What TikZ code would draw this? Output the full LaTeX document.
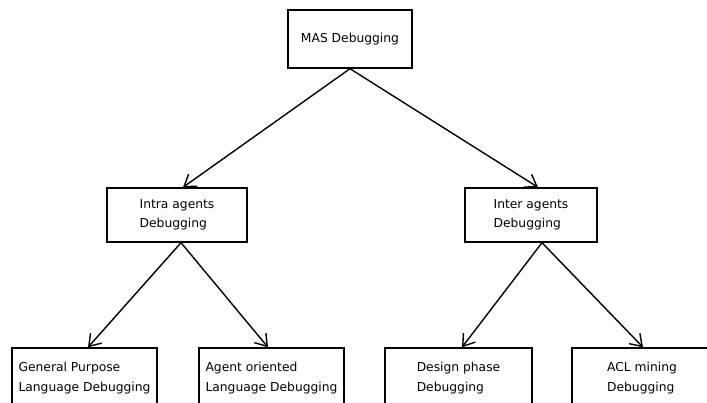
\documentclass[tikz,border=0pt]{standalone}
\usepackage{fontspec}
\setmainfont{DejaVu Sans}
\usetikzlibrary{arrows.meta}

\begin{document}
\begin{tikzpicture}[x=1pt,y=-1pt,line width=1.4pt,
  box/.style={draw,align=left,inner sep=2pt,minimum height=56pt,
    font=\fontsize{12.3}{19.5}\selectfont},
  arr/.style={-{Straight Barb[length=11pt,width=15pt,line width=1.4pt]}}]
\useasboundingbox (0,0) rectangle (707,403);
% root
\node[box,minimum width=124pt,minimum height=58pt] (mas) at (350,39) {MAS Debugging};
% second level
\node[box,minimum width=140pt,minimum height=54pt] (intra) at (177,215) {Intra agents\\Debugging};
\node[box,minimum width=132pt,minimum height=54pt] (inter) at (531,215) {Inter agents\\Debugging};
% leaves (cut at the lower edge)
\node[box,minimum width=145pt,minimum height=60pt] (general) at (84.5,378) {General Purpose\\Language Debugging};
\node[box,minimum width=145pt,minimum height=60pt] (agent) at (271.5,378) {Agent oriented\\Language Debugging};
\node[box,minimum width=147pt,minimum height=60pt] (design) at (458.5,378) {Design phase\\Debugging};
\node[box,minimum width=140pt,minimum height=60pt] (acl) at (642,378) {ACL mining\\Debugging};
% arrows
\draw[arr] (mas.south) -- ([xshift=6pt]intra.north);
\draw[arr] (mas.south) -- ([xshift=7pt]inter.north);
\draw[arr] ([xshift=4pt]intra.south) -- ([xshift=3.5pt]general.north);
\draw[arr] ([xshift=4pt]intra.south) -- ([xshift=-3.5pt]agent.north);
\draw[arr] ([xshift=11pt]inter.south) -- ([xshift=3.5pt]design.north);
\draw[arr] ([xshift=11pt]inter.south) -- ([xshift=1pt]acl.north);
\end{tikzpicture}
\end{document}
